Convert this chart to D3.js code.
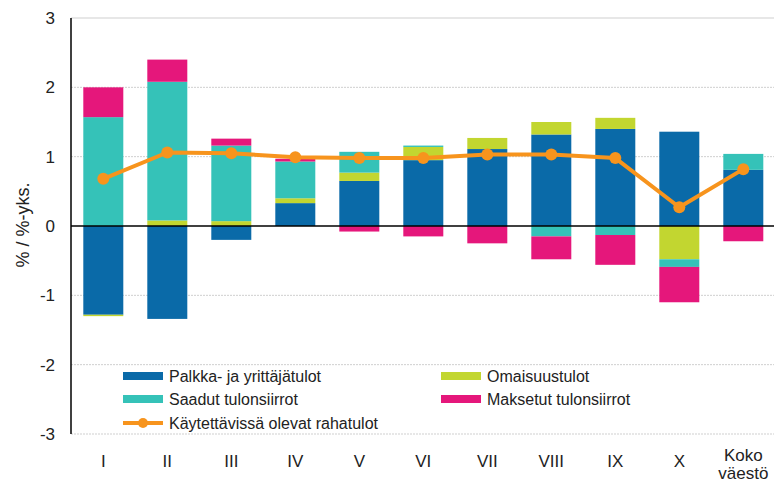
<!DOCTYPE html>
<html>
<head>
<meta charset="utf-8">
<script src="https://cdn.jsdelivr.net/npm/d3@7"></script>
<style>
html,body{margin:0;padding:0;background:#fff;}
svg{display:block;font-family:"Liberation Sans",Arial,sans-serif;}
</style>
</head>
<body>
<svg id="chart" width="774" height="486"></svg>
<script>
const categories = ["I","II","III","IV","V","VI","VII","VIII","IX","X","Koko väestö"];
const palkka   = [-1.28,-1.34,-0.20,0.33,0.65,0.95,1.11,1.32,1.40,1.36,0.81];
const omaisuus = [-0.02,0.08,0.07,0.07,0.12,0.19,0.16,0.18,0.16,-0.48,0.00];
const saadut   = [1.57,2.00,1.09,0.53,0.30,0.02,0.00,-0.15,-0.13,-0.11,0.23];
const maksetut = [0.43,0.32,0.10,0.04,-0.08,-0.15,-0.25,-0.33,-0.43,-0.51,-0.22];
const kaytettavissa = [0.68,1.06,1.05,0.99,0.98,0.98,1.03,1.03,0.98,0.27,0.82];
const seriesNames = ["Palkka- ja yrittäjätulot","Omaisuustulot","Saadut tulonsiirrot","Maksetut tulonsiirrot"];
const lineName = "Käytettävissä olevat rahatulot";
const yTicks = [-3,-2,-1,0,1,2,3];
const yLabel = "% / %-yks.";

const colors = ["#0a6aa8","#c2d630","#35c2b8","#e5177b"];
const lineColor = "#f7941d";

const svg = d3.select("#chart");
const x = d3.scaleBand().domain(categories).range([71.3,775.3]).paddingInner(0.375).paddingOuter(0.1875);
const y = d3.scaleLinear().domain([-3,3]).range([434,18]);

// gridlines
svg.append("g").selectAll("line").data(yTicks.filter(d=>d!==0)).join("line")
  .attr("x1",71).attr("x2",774).attr("y1",d=>y(d)).attr("y2",d=>y(d))
  .attr("stroke","#cfcfcf").attr("stroke-width",1).attr("stroke-dasharray",d=>d===3?null:"2,1");

// stacked data
const table = categories.map((c,i)=>({cat:c, s0:palkka[i], s1:omaisuus[i], s2:saadut[i], s3:maksetut[i]}));
const stack = d3.stack().keys(["s0","s1","s2","s3"]).offset(d3.stackOffsetDiverging);
const stacked = stack(table);

svg.append("g").selectAll("g").data(stacked).join("g")
  .attr("fill",(d,i)=>colors[i])
  .selectAll("rect").data(d=>d).join("rect")
  .attr("x",d=>x(d.data.cat))
  .attr("width",x.bandwidth())
  .attr("y",d=>y(Math.max(d[0],d[1])))
  .attr("height",d=>Math.abs(y(d[0])-y(d[1])));

// axes lines
svg.append("line").attr("x1",71).attr("x2",774).attr("y1",y(0)).attr("y2",y(0)).attr("stroke","#000").attr("stroke-width",1.5);
svg.append("line").attr("x1",71).attr("x2",71).attr("y1",y(3)).attr("y2",y(-3)).attr("stroke","#000").attr("stroke-width",1.5);

// y tick labels
svg.append("g").selectAll("text").data(yTicks).join("text")
  .attr("x",55).attr("y",d=>y(d)).attr("dy","0.35em").attr("text-anchor","end")
  .attr("font-size",17).attr("fill","#222").text(d=>d);

// y label
svg.append("text").attr("transform","translate(29,225) rotate(-90)")
  .attr("text-anchor","middle").attr("font-size",18).attr("fill","#222").text(yLabel);

// x labels
const xl = svg.append("g").selectAll("text").data(categories).join("text")
  .attr("x",d=>x(d)+x.bandwidth()/2).attr("y",467).attr("text-anchor","middle")
  .attr("font-size",17).attr("fill","#222");
xl.each(function(d){
  const parts = d.split(" ");
  const t = d3.select(this);
  parts.forEach((p,i)=>t.append("tspan").attr("x",x(d)+x.bandwidth()/2).attr("dy",i===0?0:"1.05em").text(p));
});
xl.filter(d=>d.includes(" ")).attr("y",461);

// line
const line = d3.line().x((d,i)=>x(categories[i])+x.bandwidth()/2).y(d=>y(d));
svg.append("path").datum(kaytettavissa).attr("d",line).attr("fill","none")
  .attr("stroke",lineColor).attr("stroke-width",4).attr("stroke-linejoin","round");
svg.append("g").selectAll("circle").data(kaytettavissa).join("circle")
  .attr("cx",(d,i)=>x(categories[i])+x.bandwidth()/2).attr("cy",d=>y(d)).attr("r",6).attr("fill",lineColor);

// legend
const leg = svg.append("g");
const legItems = [
  {name:seriesNames[0], color:colors[0], x:123, y:376},
  {name:seriesNames[1], color:colors[1], x:441, y:376},
  {name:seriesNames[2], color:colors[2], x:123, y:399},
  {name:seriesNames[3], color:colors[3], x:441, y:399}
];
legItems.forEach(it=>{
  leg.append("rect").attr("x",it.x).attr("y",it.y-4).attr("width",40).attr("height",8).attr("fill",it.color);
  leg.append("text").attr("x",it.x+46).attr("y",it.y).attr("dy","0.35em").attr("font-size",16).attr("fill","#222").text(it.name);
});
leg.append("line").attr("x1",123).attr("x2",163).attr("y1",423).attr("y2",423).attr("stroke",lineColor).attr("stroke-width",4);
leg.append("circle").attr("cx",143).attr("cy",423).attr("r",5).attr("fill",lineColor);
leg.append("text").attr("x",169).attr("y",423).attr("dy","0.35em").attr("font-size",16).attr("fill","#222").text(lineName);
</script>
</body>
</html>
